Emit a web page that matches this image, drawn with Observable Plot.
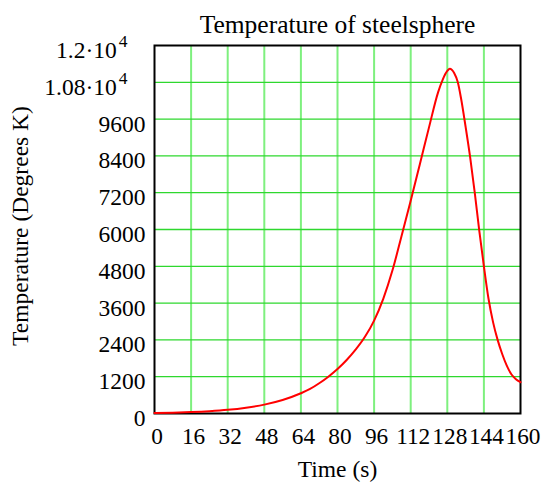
<!DOCTYPE html>
<html>
<head>
<meta charset="utf-8">
<script src="https://cdn.jsdelivr.net/npm/d3@7"></script>
<script src="https://cdn.jsdelivr.net/npm/@observablehq/plot@0.6"></script>
<style>
  html, body { margin: 0; padding: 0; background: #fff; }
  #chart svg { display: block; }
</style>
</head>
<body>
<div id="chart"></div>
<script>
// Data
const times = [0, 8, 16, 24, 32, 40, 48, 56, 64, 68, 72, 76, 80, 84, 88, 92, 96, 100, 104, 108, 112, 116, 120, 124, 126, 128, 129.1, 131, 132.6, 134, 136, 138, 140, 142, 144, 146, 148, 150, 152, 154, 156, 158, 160];
const temps = [15, 25, 45, 75, 120, 190, 290, 440, 660, 800, 985, 1200, 1450, 1745, 2090, 2500, 3030, 3740, 4660, 5790, 6940, 8130, 9330, 10480, 10890, 11170, 11240, 11100, 10800, 10280, 9350, 8350, 7200, 5950, 4800, 3750, 2980, 2400, 1940, 1560, 1280, 1120, 1020];

const xTicks = [0, 16, 32, 48, 64, 80, 96, 112, 128, 144, 160];
const yTicks = [0, 1200, 2400, 3600, 4800, 6000, 7200, 8400, 9600, 10800, 12000];
const yTickLabels = ["0", "1200", "2400", "3600", "4800", "6000", "7200", "8400", "9600", "1.08·10^4", "1.2·10^4"];
const xGrid = [16, 32, 48, 64, 80, 96, 112, 128, 144];
const yGrid = [1200, 2400, 3600, 4800, 6000, 7200, 8400, 9600, 10800];

const titleText = "Temperature of steelsphere";
const xLabel = "Time (s)";
const yLabel = "Temperature (Degrees K)";

const fontFamily = "'Liberation Serif', 'Times New Roman', serif";

const plot = Plot.plot({
  width: 545,
  height: 485,
  marginLeft: 154,
  marginRight: 25,
  marginTop: 45,
  marginBottom: 72,
  style: { fontFamily, color: "#000", background: "#fff", overflow: "visible" },
  x: { domain: [0, 160], nice: false },
  y: { domain: [0, 12000], nice: false },
  marks: [
    Plot.ruleX(xGrid, { stroke: "#7ef07e", strokeWidth: 2 }),
    Plot.ruleY(yGrid, { stroke: "#2ed82e", strokeWidth: 1.3 }),
    Plot.frame({ stroke: "#000", strokeWidth: 2 }),
    Plot.line(times, { x: times, y: temps, stroke: "#ff0000", strokeWidth: 2, curve: "monotone-x" }),
    Plot.axisX({ ticks: xTicks, tickSize: 0, tickPadding: 14, dx: 2.5, fontSize: 23.3, label: null, tickFormat: (d) => String(d) }),
    Plot.axisY({ ticks: yTicks, tickSize: 0, tickPadding: 9, dy: 5, fontSize: 23.5, label: null,
      tickFormat: (d) => yTickLabels[yTicks.indexOf(d)] }),
    Plot.text([titleText], { frameAnchor: "top", lineAnchor: "bottom", dy: -13, fontSize: 25.5, fill: "#000" }),
    Plot.text([xLabel], { frameAnchor: "bottom", lineAnchor: "bottom", dy: 63, fontSize: 23.5, fill: "#000" }),
    Plot.text([yLabel], { frameAnchor: "left", textAnchor: "middle", lineAnchor: "bottom", rotate: -90, dx: -127, dy: -3.5, fontSize: 23.5, fill: "#000" })
  ]
});

document.getElementById("chart").appendChild(plot);

// Render "a·10^b" tick labels with a real superscript
plot.querySelectorAll('g[aria-label="y-axis tick label"] text').forEach((t) => {
  const s = t.textContent;
  if (s.includes("^")) {
    const [base, exp] = s.split("^");
    t.textContent = base;
    t.setAttribute("dx", "-18");
    const sup = document.createElementNS("http://www.w3.org/2000/svg", "tspan");
    sup.setAttribute("dx", "2");
    sup.setAttribute("dy", "-11");
    sup.setAttribute("font-size", "17.5");
    sup.textContent = exp;
    t.appendChild(sup);
  }
});
</script>
</body>
</html>
